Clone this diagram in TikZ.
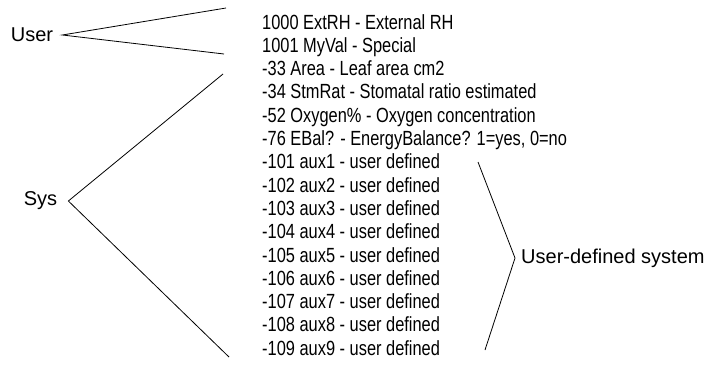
\documentclass[tikz,border=0pt]{standalone}
\usepackage{fontspec}
\setmainfont{Liberation Sans}
\newfontfamily\narrowfont[FakeStretch=0.8]{Liberation Sans}
\tikzset{
  group/.style={font=\fontsize{20}{24}\selectfont, inner sep=0pt},
  entry/.style={font=\narrowfont\fontsize{20.5}{24}\selectfont, anchor=base west, inner sep=0pt},
  branch/.style={line width=0.8pt}
}
\begin{document}
\begin{tikzpicture}[x=1pt,y=-1pt]
            \useasboundingbox (0,0) rectangle (719,367);
            % parameter list
            \foreach \txt [count=\i from 0] in {{1000 ExtRH - External RH},
                {1001 MyVal - Special}, {-33 Area - Leaf area cm2},
                {-34 StmRat - Stomatal ratio estimated},
                {-52 Oxygen\% - Oxygen concentration},
                {-76 EBal? - EnergyBalance? 1=yes, 0=no},
                {-101 aux1 - user defined}, {-102 aux2 - user defined},
                {-103 aux3 - user defined}, {-104 aux4 - user defined},
                {-105 aux5 - user defined}, {-106 aux6 - user defined},
                {-107 aux7 - user defined}, {-108 aux8 - user defined},
                {-109 aux9 - user defined}}
            \node[entry] (p\i) at (262,29+23.3*\i) {\txt};
            % group labels
            \node[group] (user) at (32,35) {User};
            \node[group] (sys) at (40.5,201) {Sys};
            \node[group, anchor=west] (uds) at (521,258) {User-defined system};
            \coordinate (usertip) at ([xshift=9]user.east);
            \coordinate (systip) at ([xshift=11]sys.east);
            \coordinate (udstip) at ([xshift=-6]uds.west);
            \coordinate (usera) at (226,8);
            \coordinate (userb) at (224,54);
            \coordinate (sysa) at (223,74);
            \coordinate (sysb) at (229,357);
            \coordinate (udsa) at (478,162);
            \coordinate (udsb) at (485,350);
            \draw[branch] (usera) -- (usertip) -- (userb);
            \draw[branch] (sysa) -- (systip) -- (sysb);
            \draw[branch] (udsa) -- (udstip) -- (udsb);
        \end{tikzpicture}
\end{document}
